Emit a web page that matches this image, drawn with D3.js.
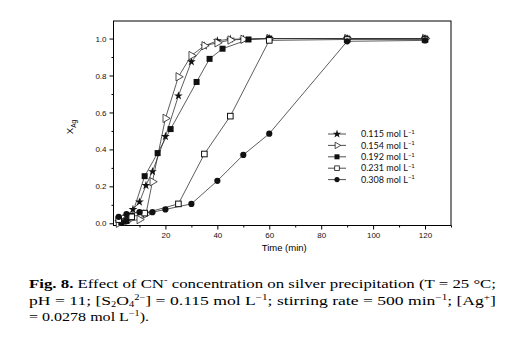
<!DOCTYPE html>
<html><head><meta charset="utf-8">
<script src="https://cdn.jsdelivr.net/npm/d3@7/dist/d3.min.js"></script>
<style>body{margin:0;background:#fff}</style>
</head><body><svg id="c" width="507" height="344"></svg>
<script>
// ---- data ----
const legendLabels = ["0.115", "0.154", "0.192", "0.231", "0.308"];
const t115 = [2, 5, 7.5, 10, 12.5, 15, 20, 25, 30, 35, 40, 45, 50, 60, 90, 120];
const x115 = [0.01, 0.04, 0.075, 0.115, 0.205, 0.28, 0.47, 0.69, 0.875, 0.96, 0.988, 0.997, 0.997, 1.0, 1.0, 1.0];
const t154 = [2, 5, 10, 12.5, 15, 20, 25, 30, 35, 40, 45, 50, 60, 90, 120];
const x154 = [0.0, 0.01, 0.02, 0.05, 0.225, 0.568, 0.793, 0.908, 0.961, 0.977, 0.992, 0.996, 1.0, 1.0, 1.0];
const t192 = [3, 5, 7, 12, 17, 22, 32, 37, 42, 52, 60, 90, 120];
const x192 = [0.005, 0.012, 0.04, 0.255, 0.38, 0.51, 0.765, 0.89, 0.945, 0.995, 1.0, 1.0, 1.0];
const t231 = [2, 7, 12, 25, 35, 45, 60, 90, 120];
const x231 = [0.02, 0.035, 0.055, 0.105, 0.375, 0.58, 0.99, 0.995, 0.995];
const t308 = [2, 5, 10, 15, 20, 30, 40, 50, 60, 90, 120];
const x308 = [0.035, 0.05, 0.06, 0.06, 0.075, 0.105, 0.23, 0.37, 0.485, 0.985, 0.99];
const xTicks = [20, 40, 60, 80, 100, 120];
const xMinor = [10, 30, 50, 70, 90, 110, 130];
const yTicks = [0, 0.2, 0.4, 0.6, 0.8, 1.0];
const yMinor = [0.1, 0.3, 0.5, 0.7, 0.9];

const series = [
  {t: t115, v: x115, sym: "star"},
  {t: t154, v: x154, sym: "tri"},
  {t: t192, v: x192, sym: "sqf"},
  {t: t231, v: x231, sym: "sqo"},
  {t: t308, v: x308, sym: "circ"}
];

const svg = d3.select("#c");
const L = 113.5, R = 451, T = 21, B = 225.5;
const x = d3.scaleLinear().domain([0, 130]).range([L, R]);
const y = d3.scaleLinear().domain([-0.012, 1.095]).range([B, T]);

// axes
const axFont = "'Liberation Sans', Arial, sans-serif";
svg.append("g").attr("transform", `translate(0,${B})`)
  .call(d3.axisBottom(x).tickValues(xTicks).tickSize(4).tickPadding(3).tickFormat(d3.format("d")));
svg.append("g").attr("transform", `translate(0,${B})`)
  .call(d3.axisBottom(x).tickValues(xMinor).tickSize(2).tickFormat(""))
  .call(g => g.select(".domain").remove());
svg.append("g").attr("transform", `translate(${L},0)`)
  .call(d3.axisLeft(y).tickValues(yTicks).tickSize(4).tickPadding(3).tickFormat(d3.format(".1f")));
svg.append("g").attr("transform", `translate(${L},0)`)
  .call(d3.axisLeft(y).tickValues(yMinor).tickSize(2).tickFormat(""))
  .call(g => g.select(".domain").remove());
svg.selectAll(".tick text").attr("font-family", axFont).attr("font-size", 8).attr("fill", "#111");
svg.selectAll(".domain").remove();
svg.append("rect").attr("x", L).attr("y", T).attr("width", R - L).attr("height", B - T)
  .attr("fill", "none").attr("stroke", "#000").attr("stroke-width", 1);

// titles
svg.append("text").attr("x", (L + R) / 2 + 2).attr("y", 250.5)
  .attr("text-anchor", "middle").attr("font-family", axFont).attr("font-size", 9.5).text("Time (min)");
const yt = svg.append("text").attr("transform", "translate(73,127) rotate(-90)")
  .attr("text-anchor", "middle").attr("font-family", axFont).attr("font-size", 9.5);
yt.append("tspan").text("X");
yt.append("tspan").attr("dy", 3).attr("font-size", 6.5).text("Ag");

// markers
function drawMarker(g, sym, cx, cy) {
  if (sym === "star") {
    g.append("path").attr("d", d3.symbol(d3.symbolStar, 24)()).attr("transform", `translate(${cx},${cy})`)
      .attr("fill", "#111");
  } else if (sym === "tri") {
    g.append("path").attr("d", d3.symbol(d3.symbolTriangle, 30)()).attr("transform", `translate(${cx},${cy}) rotate(90)`)
      .attr("fill", "#fff").attr("stroke", "#222").attr("stroke-width", 0.8);
  } else if (sym === "sqf") {
    g.append("rect").attr("x", cx - 3).attr("y", cy - 3).attr("width", 6).attr("height", 6).attr("fill", "#111");
  } else if (sym === "sqo") {
    g.append("rect").attr("x", cx - 2.8).attr("y", cy - 2.8).attr("width", 5.6).attr("height", 5.6)
      .attr("fill", "#fff").attr("stroke", "#111").attr("stroke-width", 1);
  } else {
    g.append("circle").attr("cx", cx).attr("cy", cy).attr("r", 3.1).attr("fill", "#111");
  }
}

const line = d3.line().x(d => x(d[0])).y(d => y(d[1]));
series.forEach(s => {
  const pts = s.t.map((t, i) => [t, s.v[i]]);
  svg.append("path").attr("d", line(pts)).attr("fill", "none").attr("stroke", "#333").attr("stroke-width", 0.8);
});
series.forEach(s => {
  const g = svg.append("g");
  s.t.forEach((t, i) => drawMarker(g, s.sym, x(t), y(s.v[i])));
});

// legend
const lg = svg.append("g");
series.forEach((s, i) => {
  const ly = 134 + i * 11.4;
  lg.append("line").attr("x1", 328).attr("x2", 346).attr("y1", ly).attr("y2", ly).attr("stroke", "#222").attr("stroke-width", 0.8);
  const g = lg.append("g");
  if (s.sym === "star") g.append("path").attr("d", d3.symbol(d3.symbolStar, 22)()).attr("transform", `translate(337,${ly})`).attr("fill", "#111");
  else if (s.sym === "tri") g.append("path").attr("d", d3.symbol(d3.symbolTriangle, 18)()).attr("transform", `translate(337,${ly}) rotate(90)`).attr("fill", "#fff").attr("stroke", "#222").attr("stroke-width", 0.8);
  else if (s.sym === "sqf") g.append("rect").attr("x", 334.5).attr("y", ly - 2.5).attr("width", 5).attr("height", 5).attr("fill", "#111");
  else if (s.sym === "sqo") g.append("rect").attr("x", 334.7).attr("y", ly - 2.3).attr("width", 4.6).attr("height", 4.6).attr("fill", "#fff").attr("stroke", "#111").attr("stroke-width", 0.8);
  else g.append("circle").attr("cx", 337).attr("cy", ly).attr("r", 2.6).attr("fill", "#111");
  const tx = lg.append("text").attr("x", 361).attr("y", ly + 3.2).attr("font-family", "Lato, 'Open Sans', sans-serif").attr("font-size", 9).attr("fill", "#111");
  tx.append("tspan").text(legendLabels[i] + " mol L");
  tx.append("tspan").attr("dy", -3.5).attr("font-size", 6).text("−1");
});

// caption
const cap = svg.append("g").attr("font-family", "Liberation Serif").attr("font-size", 13.5).attr("fill", "#000");

const l1 = cap.append("text").attr("x", 29).attr("y", 288.3).attr("textLength", 467).attr("lengthAdjust", "spacingAndGlyphs");
l1.append("tspan").attr("font-weight", "bold").text("Fig. 8.");
l1.append("tspan").text(" Effect of CN");
l1.append("tspan").attr("dy", -5).attr("font-size", 8.5).text("-");
l1.append("tspan").attr("dy", 5).text(" concentration on silver precipitation (T = 25 °C;");

const l2 = cap.append("text").attr("x", 29).attr("y", 304.5).attr("textLength", 467).attr("lengthAdjust", "spacingAndGlyphs");
l2.append("tspan").text("pH = 11; [S");
l2.append("tspan").attr("dy", 2).attr("font-size", 8).text("2");
l2.append("tspan").attr("dy", -2).text("O");
l2.append("tspan").attr("dy", 2).attr("font-size", 8).text("4");
l2.append("tspan").attr("dy", -7).attr("font-size", 8).text("2−");
l2.append("tspan").attr("dy", 5).text("] = 0.115 mol L");
l2.append("tspan").attr("dy", -5).attr("font-size", 8.5).text("−1");
l2.append("tspan").attr("dy", 5).text("; stirring rate = 500 min");
l2.append("tspan").attr("dy", -5).attr("font-size", 8.5).text("−1");
l2.append("tspan").attr("dy", 5).text("; [Ag");
l2.append("tspan").attr("dy", -5).attr("font-size", 8.5).text("+");
l2.append("tspan").attr("dy", 5).text("]");

const l3 = cap.append("text").attr("x", 29).attr("y", 321).attr("textLength", 120).attr("lengthAdjust", "spacingAndGlyphs");
l3.append("tspan").text("= 0.0278 mol L");
l3.append("tspan").attr("dy", -5).attr("font-size", 8.5).text("−1");
l3.append("tspan").attr("dy", 5).text(").");
</script></body></html>
